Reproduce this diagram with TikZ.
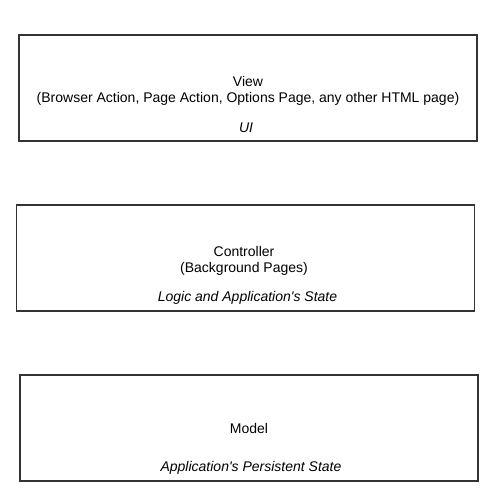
\documentclass[tikz,border=0pt]{standalone}
\usepackage{fontspec}
\setmainfont{Liberation Sans}
\begin{document}
\begin{tikzpicture}[x=1pt, y=-1pt,
    layer/.style={draw=black!80, line width=1.3pt, minimum width=458pt, minimum height=106pt, inner sep=0pt},
    title/.style={font=\fontsize{14}{16}\selectfont, align=center, inner sep=0pt},
    role/.style={font=\fontsize{14}{16}\selectfont\itshape, inner sep=0pt}]
        \useasboundingbox (0, 0) rectangle (497, 501);

        % Layers
        \node[layer] at (248, 88)    (view)       {};
        \node[layer] at (245.5, 258) (controller) {};
        \node[layer] at (249, 428)   (model)      {};

        % Texts
        \node[title] at (248, 91)    (viewtitle)       {View\\(Browser Action, Page Action, Options Page, any other HTML page)};
        \node[role]  at (246, 128)   (viewrole)        {UI};
        \node[title] at (244, 261)   (controllertitle) {Controller\\(Background Pages)};
        \node[role]  at (247.5, 298) (controllerrole)  {Logic and Application\textquotesingle s State};
        \node[title] at (249, 428)   (modeltitle)      {Model};
        \node[role]  at (251, 468)   (modelrole)       {Application\textquotesingle s Persistent State};
    \end{tikzpicture}
\end{document}
